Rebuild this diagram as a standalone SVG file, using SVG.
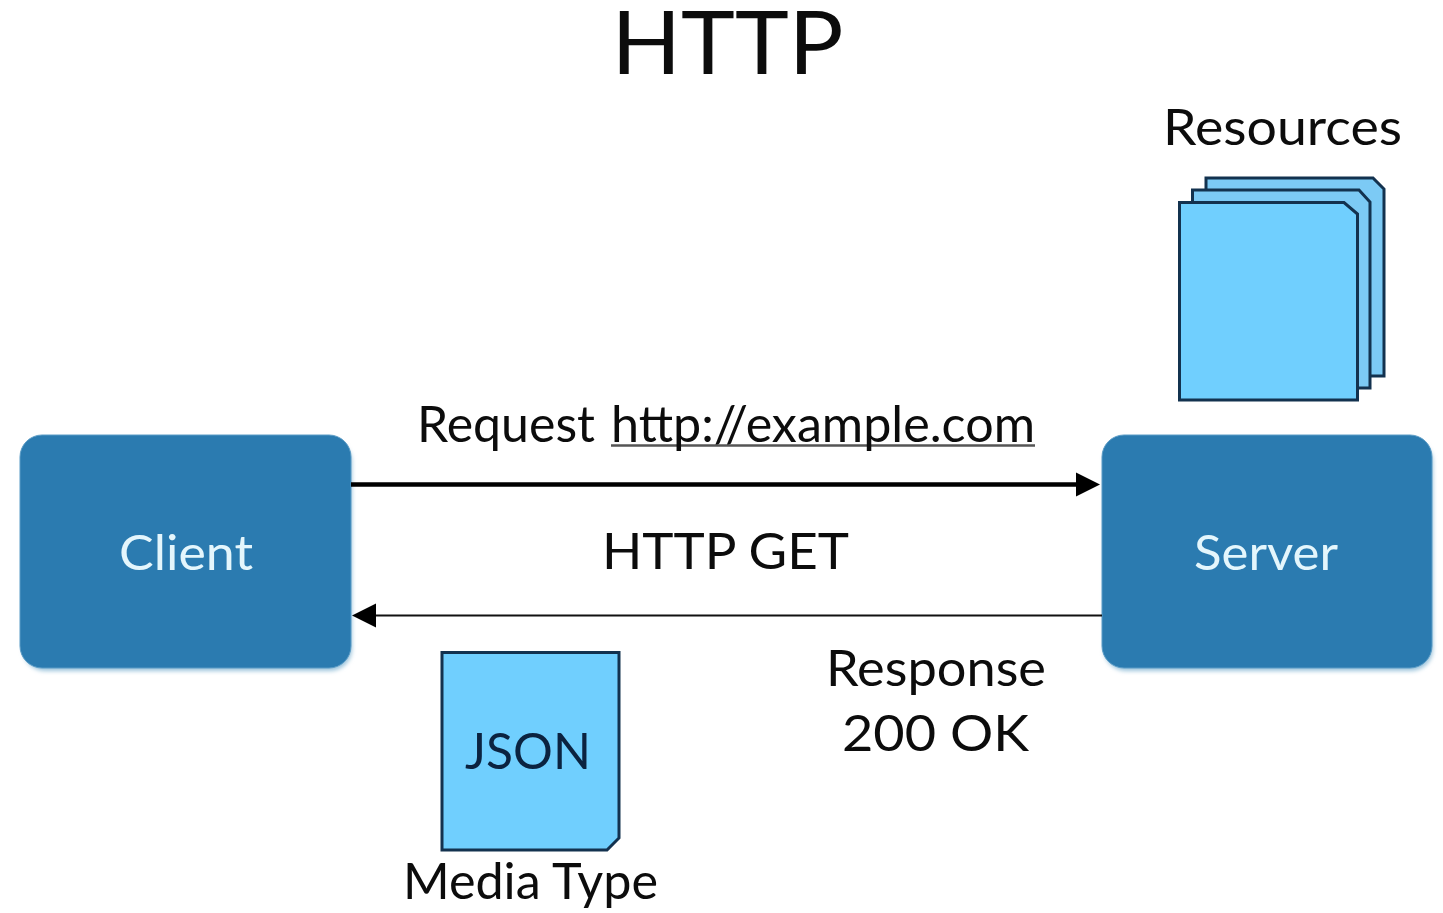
<svg xmlns="http://www.w3.org/2000/svg" width="1443" height="913" viewBox="0 0 1443 913">
<style>
text{font-family:Lato,"Liberation Sans",sans-serif;fill:#0c0c0c}
.box{fill:#2b7bb0;stroke:#5b9cc6;stroke-width:1}
.white{fill:#e4f6fc;font-size:48px;text-anchor:middle}
.lbl{font-size:50px}
.doc{fill:#70cffe;stroke:#13324f;stroke-width:3}
.back{fill:#7ccaf5}
</style>
<defs>
<filter id="s" x="-5%" y="-5%" width="110%" height="110%"><feGaussianBlur stdDeviation="2"/></filter>
<marker id="a1" markerUnits="userSpaceOnUse" markerWidth="24" markerHeight="26" refX="12" refY="13" orient="auto"><path d="M0 1L24 13L0 25Z" fill="#000"/></marker>
</defs>
<rect width="1443" height="913" fill="#fff"/>
<text x="727.500" y="74" font-size="88" text-anchor="middle" textLength="232" lengthAdjust="spacingAndGlyphs">HTTP</text>
<text class="lbl" x="1163" y="145" textLength="239" lengthAdjust="spacingAndGlyphs">Resources</text>
<g id="resources">
<path class="doc back" d="M1206 178H1373L1384 189V376H1206Z"/>
<path class="doc back" d="M1192.500 190H1359L1370 202V388H1192.500Z"/>
<path class="doc" d="M1179.500 202.500H1344L1357.500 214V400H1179.500Z"/>
</g>
<g id="client">
<rect x="23" y="440" width="329" height="231" rx="22" fill="#9cc4dc" filter="url(#s)"/>
<rect class="box" x="20" y="435" width="331" height="233" rx="22"/>
<text class="white" x="186" y="570" textLength="134" lengthAdjust="spacingAndGlyphs">Client</text>
</g>
<g id="server">
<rect x="1104" y="440" width="329" height="231" rx="22" fill="#9cc4dc" filter="url(#s)"/>
<rect class="box" x="1102" y="435" width="330" height="233" rx="22"/>
<text class="white" x="1266" y="570" textLength="144" lengthAdjust="spacingAndGlyphs">Server</text>
</g>
<g id="connectors">
<line x1="351" y1="484.500" x2="1088" y2="484.500" stroke="#000" stroke-width="4.500" marker-end="url(#a1)"/>
<line x1="1102" y1="615.500" x2="364" y2="615.500" stroke="#111" stroke-width="2" marker-end="url(#a1)"/>
</g>
<line x1="611" y1="445.500" x2="1035" y2="445.500" stroke="#555" stroke-width="2.500"/>
<text class="lbl" x="417" y="442" textLength="178" lengthAdjust="spacingAndGlyphs">Request</text>
<text class="lbl" x="611" y="442" textLength="424" lengthAdjust="spacingAndGlyphs">http://example.com</text>
<text class="lbl" x="602" y="569" textLength="247" lengthAdjust="spacingAndGlyphs">HTTP GET</text>
<text class="lbl" x="826" y="686" textLength="220" lengthAdjust="spacingAndGlyphs">Response</text>
<text class="lbl" x="842" y="751" textLength="187" lengthAdjust="spacingAndGlyphs">200 OK</text>
<g id="json">
<path class="doc" d="M442 652.500H619V838L607 850H442Z"/>
<text class="lbl" x="465" y="769" textLength="126" lengthAdjust="spacingAndGlyphs" style="fill:#0b2340">JSON</text>
</g>
<text class="lbl" x="403" y="899" textLength="255" lengthAdjust="spacingAndGlyphs">Media Type</text>
</svg>
